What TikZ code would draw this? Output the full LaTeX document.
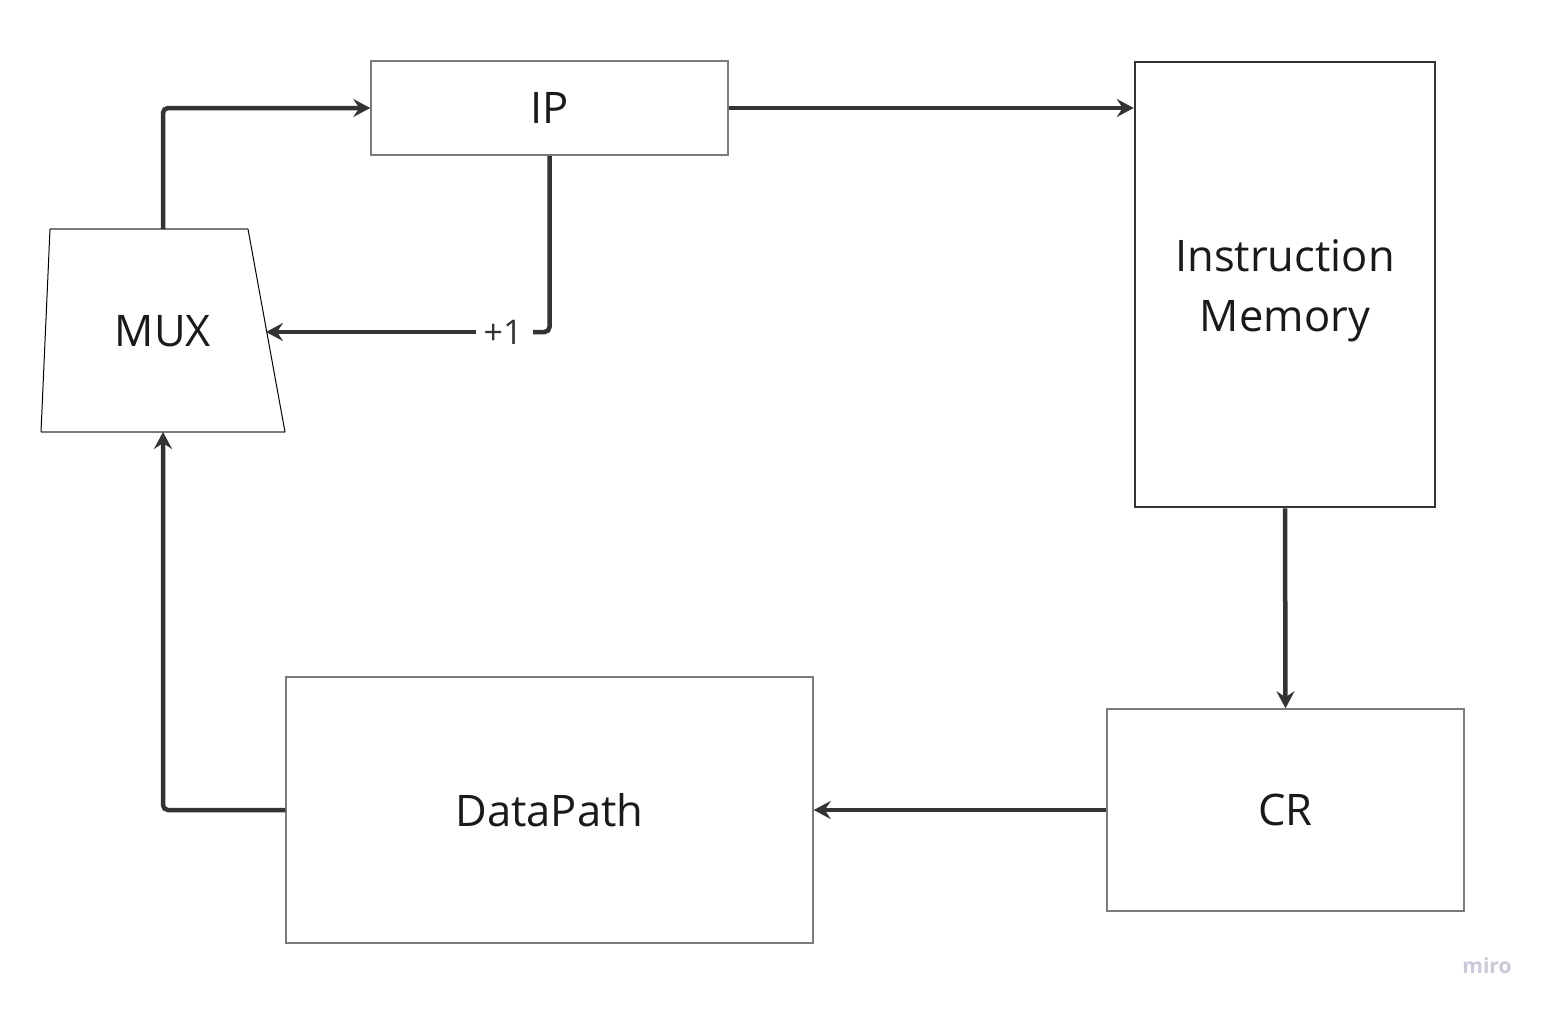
\documentclass[tikz,border=0pt]{standalone}
\usepackage{fontspec}
\setmainfont{Open Sans}
\usetikzlibrary{arrows.meta}
\definecolor{boxgray}{HTML}{7A7A7A}
\definecolor{ink}{HTML}{333333}
\definecolor{txt}{HTML}{1A1A1A}
\definecolor{mirocol}{HTML}{C9C9D9}
\tikzset{
  block/.style={draw=boxgray, line width=1.5pt, fill=white, inner sep=0pt, text=txt,
    font=\fontsize{43.5}{60}\selectfont},
  conn/.style={draw=ink, line width=4.5pt, rounded corners=5pt,
    -{Stealth[length=17pt,width=18pt,inset=6pt]}},
  plain/.style={draw=ink, line width=4.5pt, rounded corners=5pt},
}
\begin{document}
\begin{tikzpicture}[x=1pt,y=-1pt]
\useasboundingbox (0,0) rectangle (1547,1009);
\fill[white] (0,0) rectangle (1547,1009);
% boxes
\node[block, minimum width=357pt, minimum height=94pt] (ip) at (549.5,108) {IP};
\node[block, draw=ink, line width=2.5pt, minimum width=300pt, minimum height=445pt] (im) at (1285,284.5) {};
\node[text=txt, font=\fontsize{43.5}{60}\selectfont, align=center, inner sep=0pt] (imtext) at ([yshift=-6pt]im.center) {Instruction\\Memory};
\node[block, minimum width=527pt, minimum height=266pt] (dp) at (549.5,810) {DataPath};
\node[block, minimum width=357pt, minimum height=202pt] (cr) at (1285.5,810) {CR};
% MUX trapezoid
\coordinate (mtl) at (50,229);
\coordinate (mtr) at (248,229);
\coordinate (mbr) at (285,432);
\coordinate (mbl) at (41,432);
\fill[white] (mtl) -- (mtr) -- (mbr) -- (mbl) -- cycle;
\draw[boxgray, line width=1.5pt] (mtl) -- (mtr);
\draw[boxgray, line width=1.5pt] (mbl) -- (mbr);
\draw[black, line width=1pt] (mtr) -- (mbr);
\draw[black, line width=1pt] (mtl) -- (mbl);
\node[text=txt, font=\fontsize{43.5}{52}\selectfont] (mux) at (163,331) {MUX};
\coordinate (muxtop) at (163,229);
\coordinate (muxbot) at (163,432);
\coordinate (muxin) at (266,332);
% +1 label
\node[text=ink, font=\fontsize{34}{40}\selectfont, inner sep=0pt] (plus) at (503,332) {+1};
\coordinate (gapr) at (533,332);
\coordinate (gapl) at (476,332);
% connectors
\draw[conn] (muxtop) |- (ip.west);
\draw[conn] (ip.east) -- (im.west |- ip.east);
\draw[plain] (ip.south) |- (gapr);
\draw[conn] (gapl) -- (muxin);
\draw[conn] (im.south) -- (cr.north);
\draw[conn] (cr.west) -- (dp.east);
\draw[conn] (dp.west) -| (muxbot);
% watermark
\node[text=mirocol, font=\fontsize{21}{25}\selectfont\bfseries] (miro) at (1487,966) {miro};
\end{tikzpicture}
\end{document}
